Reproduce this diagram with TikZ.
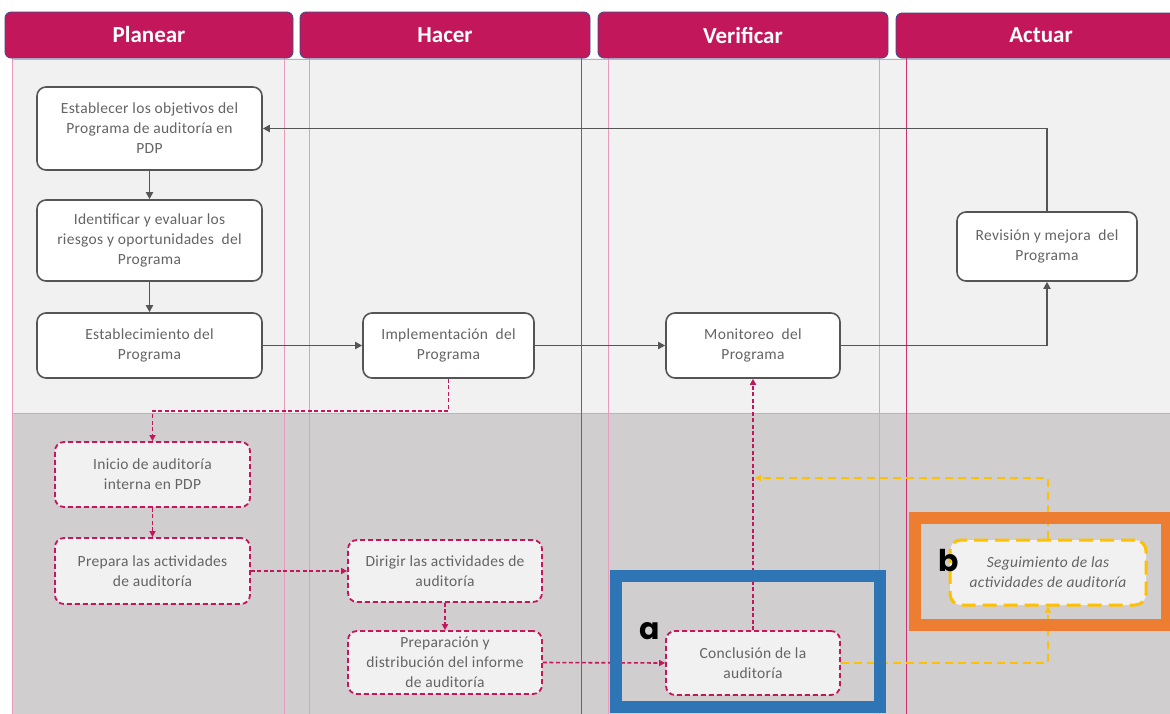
\documentclass[tikz,border=0pt]{standalone}
\usepackage{fontspec}
\setmainfont{Carlito}
\newfontfamily\popfont{Poppins}
\usetikzlibrary{arrows.meta,calc}
\definecolor{crim}{HTML}{C2185B}
\definecolor{lanepink}{HTML}{E89BBB}
\definecolor{lanedark}{HTML}{D0306F}
\definecolor{topbg}{HTML}{F1F1F1}
\definecolor{botbg}{HTML}{D0CECF}
\definecolor{txt}{HTML}{646464}
\definecolor{bord}{HTML}{555555}
\definecolor{yel}{HTML}{FFC000}
\definecolor{hlblue}{HTML}{2E75B6}
\definecolor{hlorange}{HTML}{ED7D31}
\definecolor{hdrline}{HTML}{3A4F8C}
\tikzset{
  hdr/.style={draw=hdrline, line width=0.8pt, fill=crim, rounded corners=6pt},
  hdrtext/.style={text=white, font=\fontsize{23}{26}\selectfont\bfseries},
  boxfont/.style={font=\fontsize{15.5}{20}\selectfont\addfontfeatures{LetterSpace=2}},
  solidbox/.style={draw=bord, line width=1.6pt, fill=white, rounded corners=9pt, text=txt,
     align=center, boxfont, inner sep=0pt},
  dashbox/.style={draw=crim, line width=1.8pt, dash pattern=on 5pt off 3pt, fill=topbg,
     rounded corners=9pt, text=txt, align=center, boxfont, inner sep=0pt},
  yelbox/.style={draw=yel, line width=3pt, dash pattern=on 14pt off 7pt, fill=topbg,
     rounded corners=11pt, text=txt, align=center, font=\fontsize{15.5}{20}\selectfont\itshape\addfontfeatures{LetterSpace=2}, inner sep=0pt},
  solidarrow/.style={draw=bord, line width=1.8pt, -{Triangle[length=7pt,width=7pt]}},
  dasharrow/.style={draw=crim, line width=1.6pt, dash pattern=on 4pt off 2.5pt, -{Triangle[length=6pt,width=6pt]}},
  yelarrow/.style={draw=yel, line width=1.5pt, dash pattern=on 8pt off 5pt, -{Triangle[length=6pt,width=6pt]}},
  laneline/.style={draw=lanepink, line width=0.9pt},
  darklane/.style={draw=lanedark, line width=1.2pt},
  hlbox/.style={line width=12pt},
  lbl/.style={font=\popfont\bfseries\fontsize{30}{30}\selectfont, text=black, inner sep=0pt}
}
\begin{document}
\begin{tikzpicture}[x=1pt,y=-1pt]
\useasboundingbox (0,0) rectangle (1170,713);
\fill[white] (0,0) rectangle (1170,713);
% backgrounds
\fill[topbg] (12,58) rectangle (1172,413);
\fill[botbg] (12,413) rectangle (1172,715);
\draw[laneline] (12,413) -- (1172,413);
\draw[laneline] (12,59) -- (1172,59);
% lane lines
\draw[laneline] (12,58) -- (12,715);
\draw[laneline] (284,58) -- (284,715);
\draw[laneline] (309,58) -- (309,715);
\draw[darklane] (581.5,58) -- (581.5,715);
\draw[laneline] (608,58) -- (608,715);
\draw[laneline] (879,58) -- (879,715);
\draw[darklane] (906.5,58) -- (906.5,715);
% headers
\draw[hdr] (5,12) rectangle (293,58);
\node[hdrtext] (hp) at (149,35) {Planear};
\draw[hdr] (300,12) rectangle (590,58);
\node[hdrtext] (hh) at (445,35) {Hacer};
\draw[hdr] (598,12) rectangle (888,58);
\node[hdrtext] (hv) at (743,35) {Verificar};
\draw[hdr] (896,13) rectangle (1185,58);
\node[hdrtext] (ha) at (1041,35) {Actuar};
% top nodes
\node[solidbox, minimum width=225pt, minimum height=83pt] (n1) at (149.5,128.5)
  {Establecer los objetivos del\\Programa de auditoría en\\PDP};
\node[solidbox, minimum width=225pt, minimum height=81pt] (n2) at (149.5,240.5)
  {Identificar y evaluar los\\riesgos y oportunidades \ del\\Programa};
\node[solidbox, minimum width=225pt, minimum height=65pt] (n3) at (149.5,345.5)
  {Establecimiento del\\Programa};
\node[solidbox, minimum width=171pt, minimum height=65pt] (n4) at (448.5,345.5)
  {Implementación \ del\\Programa};
\node[solidbox, minimum width=174pt, minimum height=65pt] (n5) at (753,345.5)
  {Monitoreo \ del\\Programa};
\node[solidbox, minimum width=180pt, minimum height=69pt] (n6) at (1047,246.5)
  {Revisión y mejora \ del\\Programa};
% bottom nodes
\node[dashbox, minimum width=195pt, minimum height=65pt] (n7) at (152.5,474.5)
  {Inicio de auditoría\\interna en PDP};
\node[dashbox, minimum width=195pt, minimum height=66pt] (n8) at (152.5,571)
  {Prepara las actividades\\de auditoría};
\node[dashbox, minimum width=194pt, minimum height=62pt] (n9) at (445,571)
  {Dirigir las actividades de\\auditoría};
\node[dashbox, minimum width=194pt, minimum height=63pt] (n10) at (445,662.5)
  {Preparación y\\distribución del informe\\de auditoría};
\node[dashbox, minimum width=174pt, minimum height=64pt] (n11) at (753,663)
  {Conclusión de la\\auditoría};
\node[yelbox, minimum width=196pt, minimum height=65pt] (n12) at (1048,572.5)
  {Seguimiento de las\\actividades de auditoría};
% solid connectors
\draw[solidarrow] (n1) -- (n2);
\draw[solidarrow] (n2) -- (n3);
\draw[solidarrow] (n3) -- (n4);
\draw[solidarrow] (n4) -- (n5);
\draw[solidarrow] (n5.east) -| (n6.south);
\draw[solidarrow] (n6.north) |- (n1.east);
% dashed connectors
\draw[dasharrow] (n4.south) -- ++(0,32) -| (n7.north);
\draw[dasharrow] (n7) -- (n8);
\draw[dasharrow] (n8) -- (n9);
\draw[dasharrow] (n9) -- (n10);
\draw[dasharrow] (n10.east) -- (n11.west);
\draw[dasharrow] (n11.north) -- (n5.south);
% yellow connectors
\coordinate (fb) at (755,478);
\draw[yelarrow] (n11.east) -| (n12.south);
\draw[yelarrow] (n12.north) |- (fb);
% highlight boxes
\draw[hlbox, draw=hlblue] (616,576) rectangle (880,707);
\draw[hlbox, draw=hlorange] (914.5,518) rectangle (1167,625);
\node[lbl] (la) at (650,631) {a};
\node[lbl] (lb) at (949,561) {b};
\end{tikzpicture}
\end{document}
